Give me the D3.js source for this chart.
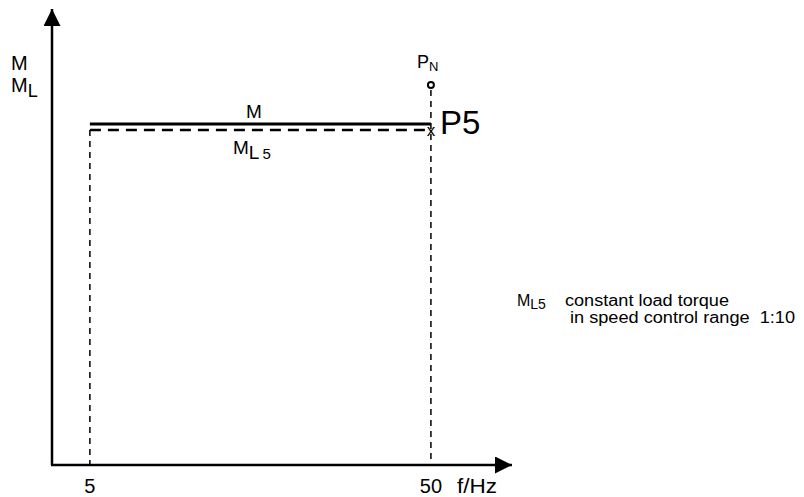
<!DOCTYPE html>
<html>
<head>
<meta charset="utf-8">
<script src="https://cdn.jsdelivr.net/npm/d3@7"></script>
<style>
  body { margin: 0; background: #fff; }
  text { font-family: "Liberation Sans", Arial, sans-serif; fill: #000; }
</style>
</head>
<body>
<svg id="chart" width="804" height="497"></svg>
<script>
// frequency points (Hz)
var freqTicks = [5, 50];
var fStart = 5, fNom = 50;
// torque levels (relative)
var mLevel = 1.0;      // motor torque M
var mlLevel = 0.982;   // constant load torque ML5
var pnLevel = 1.114;   // nominal power point PN

var svg = d3.select("#chart");

// scales: origin at the axis corner
var x = d3.scaleLinear().domain([0, 60.7]).range([52, 512]);
var y = d3.scaleLinear().domain([0, 1.337]).range([465, 9]);

var defs = svg.append("defs");
defs.append("marker").attr("id", "arr")
  .attr("viewBox", "0 0 10 10").attr("refX", 10).attr("refY", 5)
  .attr("markerWidth", 21).attr("markerHeight", 17)
  .attr("markerUnits", "userSpaceOnUse").attr("orient", "auto")
  .append("path").attr("d", "M0,0 L10,5 L0,10 z").attr("fill", "#000");

// axes (plain lines with arrow heads)
svg.append("line")
  .attr("x1", x(0)).attr("y1", y(0)).attr("x2", x(0)).attr("y2", y(1.337))
  .attr("stroke", "#000").attr("stroke-width", 2.5).attr("marker-end", "url(#arr)");
svg.append("line")
  .attr("x1", x(0) - 1).attr("y1", y(0)).attr("x2", x(60.7)).attr("y2", y(0))
  .attr("stroke", "#000").attr("stroke-width", 2.5).attr("marker-end", "url(#arr)");

// dashed verticals at 5 Hz and 50 Hz
svg.append("line")
  .attr("x1", x(fStart)).attr("x2", x(fStart)).attr("y1", y(mlLevel)).attr("y2", y(0))
  .attr("stroke", "#000").attr("stroke-width", 1.5).attr("stroke-dasharray", "6,5");
svg.append("line")
  .attr("x1", x(fNom)).attr("x2", x(fNom)).attr("y1", y(pnLevel) + 5).attr("y2", y(0))
  .attr("stroke", "#000").attr("stroke-width", 1.5).attr("stroke-dasharray", "6,5");

// M solid line
svg.append("path")
  .datum([fStart, fNom])
  .attr("d", d3.line().x(function(d){ return x(d); }).y(function(d){ return y(mLevel); }))
  .attr("stroke", "#000").attr("stroke-width", 3).attr("fill", "none");

// ML5 dashed line
svg.append("path")
  .datum([fStart, fNom])
  .attr("d", d3.line().x(function(d){ return x(d); }).y(function(d){ return y(mlLevel); }))
  .attr("stroke", "#000").attr("stroke-width", 2.5).attr("fill", "none")
  .attr("stroke-dasharray", "11,7");

// PN circle
svg.append("circle")
  .attr("cx", x(fNom)).attr("cy", y(pnLevel)).attr("r", 3)
  .attr("fill", "#fff").attr("stroke", "#000").attr("stroke-width", 2);

// x marker at P5
svg.append("text").attr("x", x(fNom)).attr("y", y(mlLevel) + 6)
  .attr("text-anchor", "middle").attr("font-size", 17).text("x");

// tick labels
svg.selectAll(".tick-lbl").data(freqTicks).enter().append("text")
  .attr("class", "tick-lbl")
  .attr("x", function(d){ return x(d); }).attr("y", 493)
  .attr("text-anchor", "middle").attr("font-size", 20)
  .text(function(d){ return d; });
svg.append("text").attr("x", 457).attr("y", 493).attr("font-size", 20)
  .attr("textLength", 40).attr("lengthAdjust", "spacingAndGlyphs").text("f/Hz");

// y axis label
svg.append("text").attr("x", 11).attr("y", 70).attr("font-size", 20).text("M");
var ml = svg.append("text").attr("x", 11).attr("y", 92).attr("font-size", 20);
ml.append("tspan").text("M");
ml.append("tspan").attr("dy", 5).attr("font-size", 18).text("L");

// curve labels
svg.append("text").attr("x", 254).attr("y", 118).attr("text-anchor", "middle")
  .attr("font-size", 19).text("M");
var ml5 = svg.append("text").attr("x", 233).attr("y", 154).attr("font-size", 19);
ml5.append("tspan").text("M");
ml5.append("tspan").attr("dy", 5).attr("font-size", 19).text("L");
ml5.append("tspan").attr("dx", 3).attr("font-size", 15).text("5");

var pn = svg.append("text").attr("x", 417).attr("y", 68).attr("font-size", 18);
pn.append("tspan").text("P");
pn.append("tspan").attr("dy", 3).attr("font-size", 13).text("N");

svg.append("text").attr("x", 440).attr("y", 134).attr("font-size", 33).text("P5");

// legend note
var lg = svg.append("text").attr("x", 517).attr("y", 306).attr("font-size", 16);
lg.append("tspan").text("M");
lg.append("tspan").attr("dy", 3).attr("font-size", 14).text("L5");
svg.append("text").attr("x", 565).attr("y", 306).attr("font-size", 16)
  .attr("textLength", 164).attr("lengthAdjust", "spacingAndGlyphs")
  .text("constant load torque");
svg.append("text").attr("x", 570).attr("y", 323).attr("font-size", 16)
  .attr("textLength", 225).attr("lengthAdjust", "spacingAndGlyphs")
  .style("white-space", "pre")
  .text("in speed control range  1:10");
</script>
</body>
</html>
